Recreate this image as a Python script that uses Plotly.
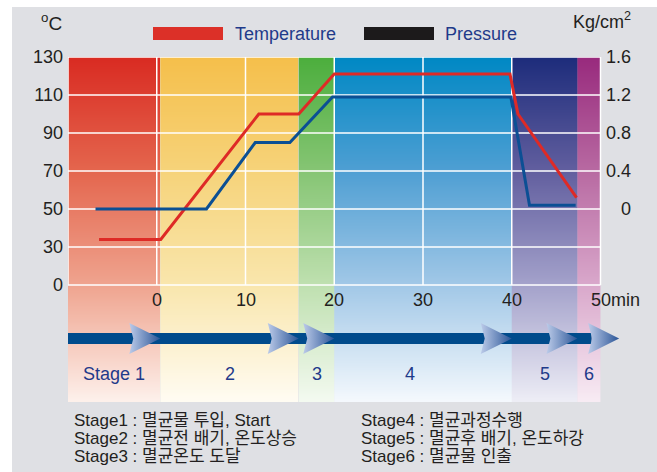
import numpy as np
import plotly.graph_objects as go

# ---------------- data ----------------
time_temp = [-6.5, 0.45, 11.5, 16.0, 20.0, 39.8, 40.7, 47.3]
temperature = [34, 34, 100, 100, 121, 121, 100, 56]
time_pres = [-6.9, 5.6, 11.1, 15.0, 19.8, 39.9, 42.0, 47.2]
pressure = [0, 0, 0.70, 0.70, 1.18, 1.18, 0.04, 0.04]

stage_labels = ["Stage 1", "2", "3", "4", "5", "6"]
stage_edges = [-10, 0.4, 16, 20, 40, 47.4, 50]
x_tickvals = [0, 10, 20, 30, 40, 50]
x_ticktext = ["0", "10", "20", "30", "40", "50min"]
temp_tickvals = [10, 30, 50, 70, 90, 110, 130]
temp_ticktext = ["0", "30", "50", "70", "90", "110", "130"]
pres_ticks = [0, 0.4, 0.8, 1.2, 1.6]
desc_left = ["Stage1 : 멸균물 투입, Start", "Stage2 : 멸균전 배기, 온도상승", "Stage3 : 멸균온도 도달"]
desc_right = ["Stage4 : 멸균과정수행", "Stage5 : 멸균후 배기, 온도하강", "Stage6 : 멸균물 인출"]

# ---------------- geometry ----------------
W, H = 657, 472
ML, MR, MT, MB = 68, 21, 57, 70
PW, PH = W - ML - MR, H - MT - MB
X_RANGE = [-10, 54]
Y_TOP = 130
Y_BOT = Y_TOP - PH / 1.9          # 20 deg per 38 px
Y2_RANGE = [(Y_BOT - 50) * 0.02, (Y_TOP - 50) * 0.02]
PX_PER_MIN = PW / (X_RANGE[1] - X_RANGE[0])


def px_x(px):
    return (px - ML) / PW


def px_y(py):
    return (H - MB - py) / PH


def yval(py):
    return Y_TOP - (py - MT) / 1.9


band_colors = [
    ["#fdf1ec", "#efa48f", "#e4664e", "#d92b22"],
    ["#fffcf3", "#f9e6ad", "#f6d37a", "#f5bf4b"],
    ["#f4faf1", "#bfe0b0", "#86c574", "#4cae3d"],
    ["#f5f9fd", "#a2c8e7", "#4f9fd3", "#0088c4"],
    ["#eeeef6", "#a4a2cb", "#625f9f", "#1d2c7b"],
    ["#f8ecf4", "#d9a8cb", "#b86aa2", "#982a7d"],
]
f10 = (10 - Y_BOT) / (Y_TOP - Y_BOT)
f70 = (70 - Y_BOT) / (Y_TOP - Y_BOT)

fig = go.Figure()

# stage background gradients
ny = 90
yedges = np.linspace(Y_BOT, Y_TOP, ny + 1)
ycent = (yedges[:-1] + yedges[1:]) / 2
for i in range(len(stage_labels)):
    c = band_colors[i]
    fig.add_trace(go.Heatmap(
        x=[stage_edges[i], stage_edges[i + 1]], y=yedges,
        z=[[v] for v in ycent], zmin=Y_BOT, zmax=Y_TOP,
        colorscale=[[0, c[0]], [f10, c[1]], [f70, c[2]], [1, c[3]]],
        showscale=False, zsmooth="best", hoverinfo="skip"))

# grid lines (white)
gx, gy = [], []
for v in temp_tickvals:
    gx += [stage_edges[0], stage_edges[-1], None]
    gy += [v, v, None]
for v in [stage_edges[0]] + x_tickvals:
    gx += [v, v, None]
    gy += [temp_tickvals[0], temp_tickvals[-1], None]
fig.add_trace(go.Scatter(x=gx, y=gy, mode="lines", line=dict(color="white", width=1.5),
                         hoverinfo="skip", showlegend=False))

# data lines
fig.add_trace(go.Scatter(x=time_temp, y=temperature, mode="lines", name="Temperature",
                         line=dict(color="#de2a26", width=3), showlegend=False))
fig.add_trace(go.Scatter(x=time_pres, y=pressure, mode="lines", name="Pressure", yaxis="y2",
                         line=dict(color="#0b4f94", width=3), showlegend=False))

# process arrow bar
bar_y = yval(338.5)
fig.add_trace(go.Scatter(x=[stage_edges[0], 49.0], y=[bar_y, bar_y], mode="lines",
                         line=dict(color="#004b8c", width=11), hoverinfo="skip", showlegend=False))
tips = stage_edges[1:-1] + [52.1]
aw = 31 / PX_PER_MIN
ah = 15.5 / 1.9
for t in tips:
    fig.add_trace(go.Scatter(
        x=[t, t - aw, t - aw + 0.45, t - aw, t],
        y=[bar_y, bar_y + ah, bar_y, bar_y - ah, bar_y],
        mode="lines", fill="toself", line=dict(width=0, color="rgba(0,0,0,0)"),
        fillgradient=dict(type="horizontal", colorscale=[[0, "#bccbe9"], [1, "#2a5597"]]),
        hoverinfo="skip", showlegend=False))

FONT = "Liberation Sans, Arial, Noto Sans CJK KR, sans-serif"
DARK = "#231f20"
NAVY = "#1f3a8a"
ann = []


def add_text(x, y, text, xanchor="center", size=18, color=DARK, xref="paper", yref="paper",
             xshift=0):
    ann.append(dict(x=x, y=y, xref=xref, yref=yref, text=text, showarrow=False,
                    xanchor=xanchor, yanchor="middle", xshift=xshift,
                    font=dict(size=size, color=color)))


# x tick labels
for v, t in zip(x_tickvals, x_ticktext):
    if t.endswith("min"):
        add_text(v, px_y(300), t, xanchor="left", xref="x", xshift=-12)
    else:
        add_text(v, px_y(300), t, xref="x")
# right tick labels
for v in pres_ticks:
    add_text(X_RANGE[1], v, f"{v:g}", xanchor="right", xref="x", yref="y2",
             xshift=633 - (W - MR))
# stage labels
for i, s in enumerate(stage_labels):
    xm = (stage_edges[i] + stage_edges[i + 1]) / 2
    if i == 3:
        xm -= 1.5
    add_text(xm, px_y(374), s, xref="x", color=NAVY)
# descriptions
for j, (a, b) in enumerate(zip(desc_left, desc_right)):
    yy = px_y(420 + 18 * j)
    add_text(px_x(72), yy, a, xanchor="left", size=17)
    add_text(px_x(359), yy, b, xanchor="left", size=17)
# unit labels
add_text(px_x(51), px_y(22), "<sup>o</sup>C", size=19)
add_text(px_x(633), px_y(20), "Kg/cm<sup>2</sup>", xanchor="right")
# legend texts
add_text(px_x(233), px_y(34), "Temperature", xanchor="left", color=NAVY)
add_text(px_x(443), px_y(34), "Pressure", xanchor="left", color=NAVY)

shapes = [
    dict(type="rect", xref="paper", yref="paper", x0=px_x(12), x1=px_x(W + 2), y0=px_y(7),
         y1=px_y(H + 2), fillcolor="#dfe0e4", line=dict(width=0), layer="below"),
    dict(type="rect", xref="paper", yref="paper", x0=px_x(153), x1=px_x(223), y0=px_y(40),
         y1=px_y(27), fillcolor="#dc3028", line=dict(width=0)),
    dict(type="rect", xref="paper", yref="paper", x0=px_x(364), x1=px_x(434), y0=px_y(40),
         y1=px_y(27), fillcolor="#1c1a1b", line=dict(width=0)),
]

fig.update_layout(
    width=W, height=H,
    margin=dict(l=ML, r=MR, t=MT, b=MB, pad=0),
    paper_bgcolor="white", plot_bgcolor="rgba(0,0,0,0)",
    font=dict(family=FONT, size=18, color=DARK),
    showlegend=False,
    xaxis=dict(range=X_RANGE, showgrid=False, zeroline=False, showticklabels=False,
               showline=False, fixedrange=True),
    yaxis=dict(range=[Y_BOT, Y_TOP], tickvals=temp_tickvals, ticktext=temp_ticktext,
               showgrid=False, zeroline=False, showline=False, ticks="",
               tickfont=dict(size=18, color=DARK), ticklabelstandoff=4, fixedrange=True),
    yaxis2=dict(range=Y2_RANGE, overlaying="y", side="right", visible=False, fixedrange=True),
    annotations=ann, shapes=shapes,
)

fig.write_html("out.html", config={"displayModeBar": False, "staticPlot": True},
               post_script="document.body.style.margin='0px';document.body.style.padding='0px';")
